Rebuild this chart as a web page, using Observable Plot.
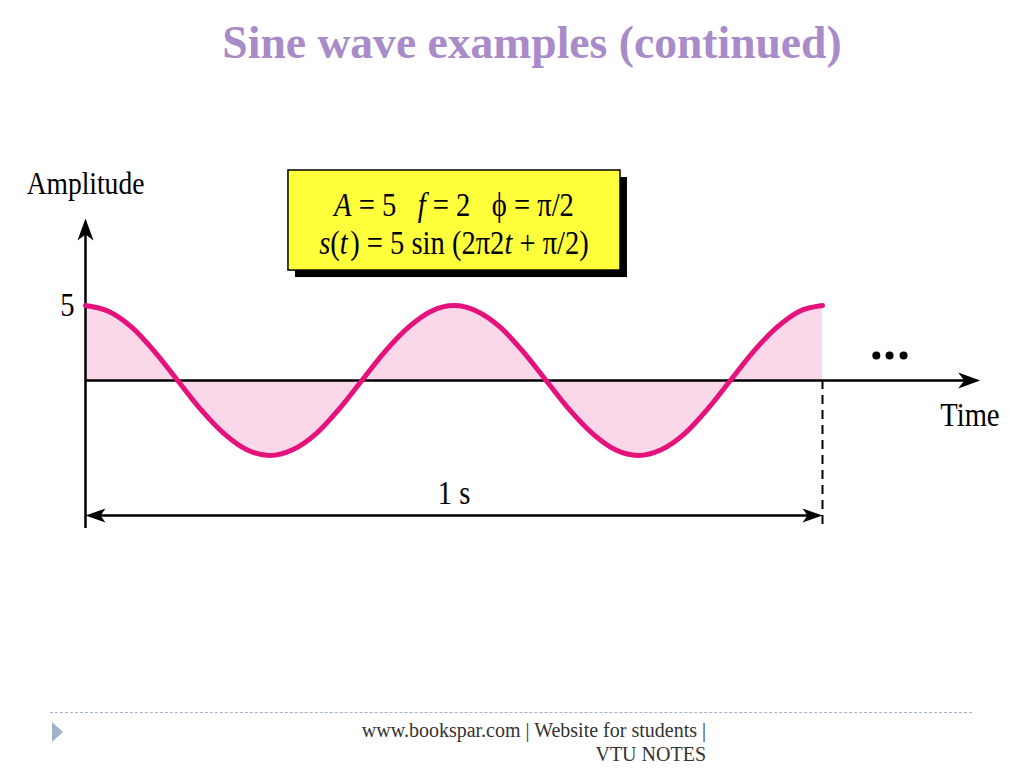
<!DOCTYPE html>
<html>
<head>
<meta charset="utf-8">
<script src="https://cdn.jsdelivr.net/npm/d3@7"></script>
<script src="https://cdn.jsdelivr.net/npm/@observablehq/plot@0.6"></script>
<style>
  html, body { margin: 0; padding: 0; background: #fff; }
  #page { position: relative; width: 1024px; height: 768px; overflow: hidden; font-family: "Liberation Serif", "DejaVu Serif", serif; }
  #title { position: absolute; left: 20px; width: 1024px; top: 19px; height: 60px; text-align: center; font-weight: bold; font-size: 47px; line-height: 47px; color: #a98bc9; transform: scaleX(0.97); transform-origin: 50% 50%; }
  #chart { position: absolute; left: 0; top: 90px; }
  #rule { position: absolute; left: 50px; top: 712px; width: 922px; border-top: 1px dashed #9fb4c9; }
  #tri { position: absolute; left: 52px; top: 722px; width: 0; height: 0; border-left: 11px solid #a0b5ca; border-top: 10px solid transparent; border-bottom: 10px solid transparent; }
  #foot { position: absolute; right: 318px; top: 718px; text-align: right; font-size: 20px; line-height: 24px; color: #333; }
</style>
</head>
<body>
<div id="page">
  <div id="title">Sine wave examples (continued)</div>
  <div id="chart"></div>
  <div id="rule"></div>
  <div id="tri"></div>
  <div id="foot">www.bookspar.com | Website for students |<br>VTU NOTES</div>
</div>
<script>
// ---- data: s(t) over one second ----
const times = [0, 0.031, 0.063, 0.094, 0.125, 0.156, 0.188, 0.219, 0.25, 0.281, 0.313, 0.344, 0.375, 0.406, 0.438, 0.469,
               0.5, 0.531, 0.563, 0.594, 0.625, 0.656, 0.688, 0.719, 0.75, 0.781, 0.813, 0.844, 0.875, 0.906, 0.938, 0.969, 1];
const amplitudes = [5, 4.62, 3.54, 1.91, 0, -1.91, -3.54, -4.62, -5, -4.62, -3.54, -1.91, 0, 1.91, 3.54, 4.62,
                    5, 4.62, 3.54, 1.91, 0, -1.91, -3.54, -4.62, -5, -4.62, -3.54, -1.91, 0, 1.91, 3.54, 4.62, 5];
const yTickValues = [5];
const yTickLabels = ["5"];
const axisLabels = { y: "Amplitude", x: "Time" };
const periodLabel = "1 s";
const formulaLine1 = [["A", true], ["\u00a0= 5\u00a0\u00a0\u00a0", false], ["f", true], ["\u00a0= 2\u00a0\u00a0\u00a0\u03d5 = \u03c0/2", false]];
const formulaLine2 = [["s", true], ["(", false], ["t", true], ["\u200a) = 5 sin (2\u03c02", false], ["t", true], ["\u00a0+ \u03c0/2)", false]];
const ellipsisTimes = [1.073, 1.091, 1.110];

const wave = times.map((t, i) => ({ t, v: amplitudes[i] }));

// ---- annotation geometry (data units) ----
const yAxisTop = 10.8, yAxisBottom = -9.87, xAxisEnd = 1.214;
const spanY = -9.0;
const box = { x1: 0.2754, x2: 0.7259, y1: 14.0, y2: 7.33 };

// custom filled arrowhead symbols (tip at origin)
function headSym(dir, len, half, notch) {
  return {
    draw(ctx) {
      const pts = [[0, 0], [-len, -half], [-len + notch, 0], [-len, half]];
      const rot = ([x, y]) => dir === "right" ? [x, y] : dir === "left" ? [-x, y] : [y, -x];
      pts.map(rot).forEach(([x, y], i) => i ? ctx.lineTo(x, y) : ctx.moveTo(x, y));
      ctx.closePath();
    }
  };
}
const upSym = headSym("up", 22, 8, 6);
const rightSym = headSym("right", 22, 8, 6);
const spanRight = headSym("right", 20, 7, 5);
const spanLeft = headSym("left", 20, 7, 5);

const serif = "Liberation Serif";
const join = parts => parts.map(p => p[0]).join("");

const svg = Plot.plot({
  width: 1024,
  height: 600,
  x: { domain: [0, 1], range: [85, 822], axis: null },
  y: { domain: [0, 5], range: [290, 215], axis: null },
  style: { fontFamily: serif, background: "transparent", overflow: "visible" },
  marks: [
    // formula box (shadow + box)
    Plot.rect([box], { x1: "x1", x2: "x2", y1: "y1", y2: "y2", fill: "#000", dx: 7, dy: 7 }),
    Plot.rect([box], { x1: "x1", x2: "x2", y1: "y1", y2: "y2", fill: "#ffff3c", stroke: "#000", strokeWidth: 1.5 }),
    Plot.text([join(formulaLine1)], { x: 0.5, y: 11.67, text: d => d, fontSize: 28, fill: "#000" }),
    Plot.text([join(formulaLine2)], { x: 0.5, y: 9.13, text: d => d, fontSize: 28, fill: "#000" }),
    // wave fill
    Plot.areaY(wave, { x: "t", y: "v", fill: "#fad8ea", curve: "monotone-x" }),
    // axes
    Plot.ruleY([0], { x1: 0, x2: xAxisEnd - 0.02, stroke: "#000", strokeWidth: 2.5 }),
    Plot.ruleX([0], { y1: yAxisBottom, y2: yAxisTop - 1, stroke: "#000", strokeWidth: 2.5 }),
    Plot.dot([0], { x: 0, y: yAxisTop, symbol: upSym, fill: "#000", stroke: null }),
    Plot.dot([0], { x: xAxisEnd, y: 0, symbol: rightSym, fill: "#000", stroke: null }),
    // wave line
    Plot.lineY(wave, { x: "t", y: "v", stroke: "#e5127c", strokeWidth: 5, curve: "monotone-x" }),
    // end-of-period dashed marker
    Plot.ruleX([1], { y1: 0, y2: yAxisBottom, stroke: "#000", strokeWidth: 2, strokeDasharray: "9,6" }),
    // 1 s span arrow
    Plot.ruleY([spanY], { x1: 0.01, x2: 0.99, stroke: "#000", strokeWidth: 2.5 }),
    Plot.dot([0], { x: 0, y: spanY, symbol: spanLeft, fill: "#000", stroke: null }),
    Plot.dot([0], { x: 1, y: spanY, symbol: spanRight, fill: "#000", stroke: null }),
    Plot.text([periodLabel], { x: 0.5, y: -7.5, text: d => d, fontSize: 28, fill: "#000" }),
    // labels
    Plot.text(yTickValues, { x: 0, y: d => d, text: (d, i) => yTickLabels[i], dx: -18, fontSize: 28, fill: "#000" }),
    Plot.text([axisLabels.y], { x: 0, y: 13.1, text: d => d, fontSize: 27, fill: "#000" }),
    Plot.text([axisLabels.x], { x: 1.2, y: -2.33, text: d => d, fontSize: 28, fill: "#000" }),
    // continuation dots
    Plot.dot(ellipsisTimes, { x: d => d, y: 1.67, r: 4, fill: "#000", stroke: null })
  ]
});

// rich text (italics) for formula lines
svg.querySelectorAll("text").forEach(el => {
  const txt = el.textContent;
  const parts = txt === join(formulaLine1) ? formulaLine1 : txt === join(formulaLine2) ? formulaLine2 : null;
  if (!parts) return;
  el.textContent = "";
  for (const [s, it] of parts) {
    const ts = document.createElementNS("http://www.w3.org/2000/svg", "tspan");
    ts.textContent = s;
    if (it) ts.setAttribute("font-style", "italic");
    el.appendChild(ts);
  }
});

document.getElementById("chart").appendChild(svg);

// the original typeface is a tall, narrow Times: enlarge glyphs, then squeeze horizontally
svg.querySelectorAll("text").forEach(el => {
  const w = el.getComputedTextLength() * 1.02;
  const fs = parseFloat(getComputedStyle(el).fontSize);
  el.style.fontSize = (fs * 1.2) + "px";
  const w2 = el.getComputedTextLength();
  const k = w / w2;
  const tr = el.getAttribute("transform") || "";
  el.setAttribute("transform", (tr + ` scale(${k.toFixed(3)},1)`).trim());
});
</script>
</body>
</html>
